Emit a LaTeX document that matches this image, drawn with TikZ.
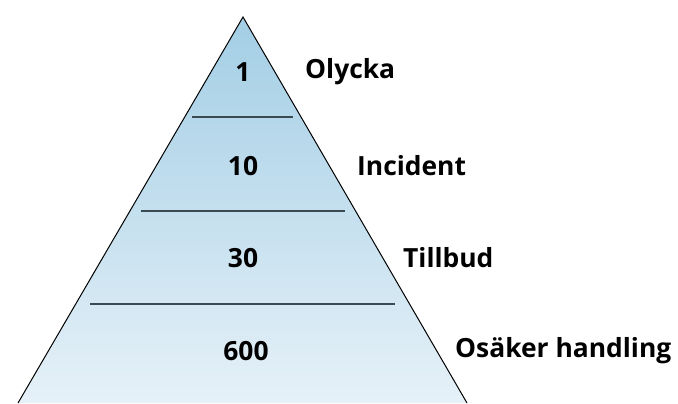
\documentclass[tikz,border=0pt]{standalone}
\usepackage{fontspec}
\setmainfont{Open Sans}
\definecolor{pyrtop}{HTML}{A3CEE5}
\definecolor{pyrbot}{HTML}{E6F1F8}
\definecolor{sepline}{HTML}{3A4A52}
\begin{document}
\begin{tikzpicture}[x=1bp,y=-1bp,
  count/.style={font=\bfseries\fontsize{26.5}{30}\selectfont, inner sep=0pt},
  level/.style={font=\bfseries\fontsize{26.5}{30}\selectfont, anchor=west, inner sep=0pt},
  divider/.style={draw=sepline, line width=1.2bp}]
  \useasboundingbox (0,0) rectangle (678,403);
  % pyramid corners
  \coordinate (apex) at (243,17);
  \coordinate (bl) at (18,403);
  \coordinate (br) at (467,403);
  \shade[top color=pyrtop, bottom color=pyrbot] (apex) -- (bl) -- (br) -- cycle;
  \draw[line width=1bp] (bl) -- (apex) -- (br);
  % level dividers
  \coordinate (d1l) at (192,117); \coordinate (d1r) at (293,117);
  \coordinate (d2l) at (141,211); \coordinate (d2r) at (345,211);
  \coordinate (d3l) at (90,304);  \coordinate (d3r) at (395,304);
  \draw[divider] (d1l) -- (d1r);
  \draw[divider] (d2l) -- (d2r);
  \draw[divider] (d3l) -- (d3r);
  % counts
  \node[count] (n1) at (243,72) {1};
  \node[count] (n2) at (243,166) {10};
  \node[count] (n3) at (243,258) {30};
  \node[count] (n4) at (246,351) {600};
  % level names
  \node[level] (l1) at (305,72) {Olycka};
  \node[level] (l2) at (357,166) {Incident};
  \node[level] (l3) at (403,258) {Tillbud};
  \node[level] (l4) at (455,351) {Osäker handling};
\end{tikzpicture}
\end{document}
